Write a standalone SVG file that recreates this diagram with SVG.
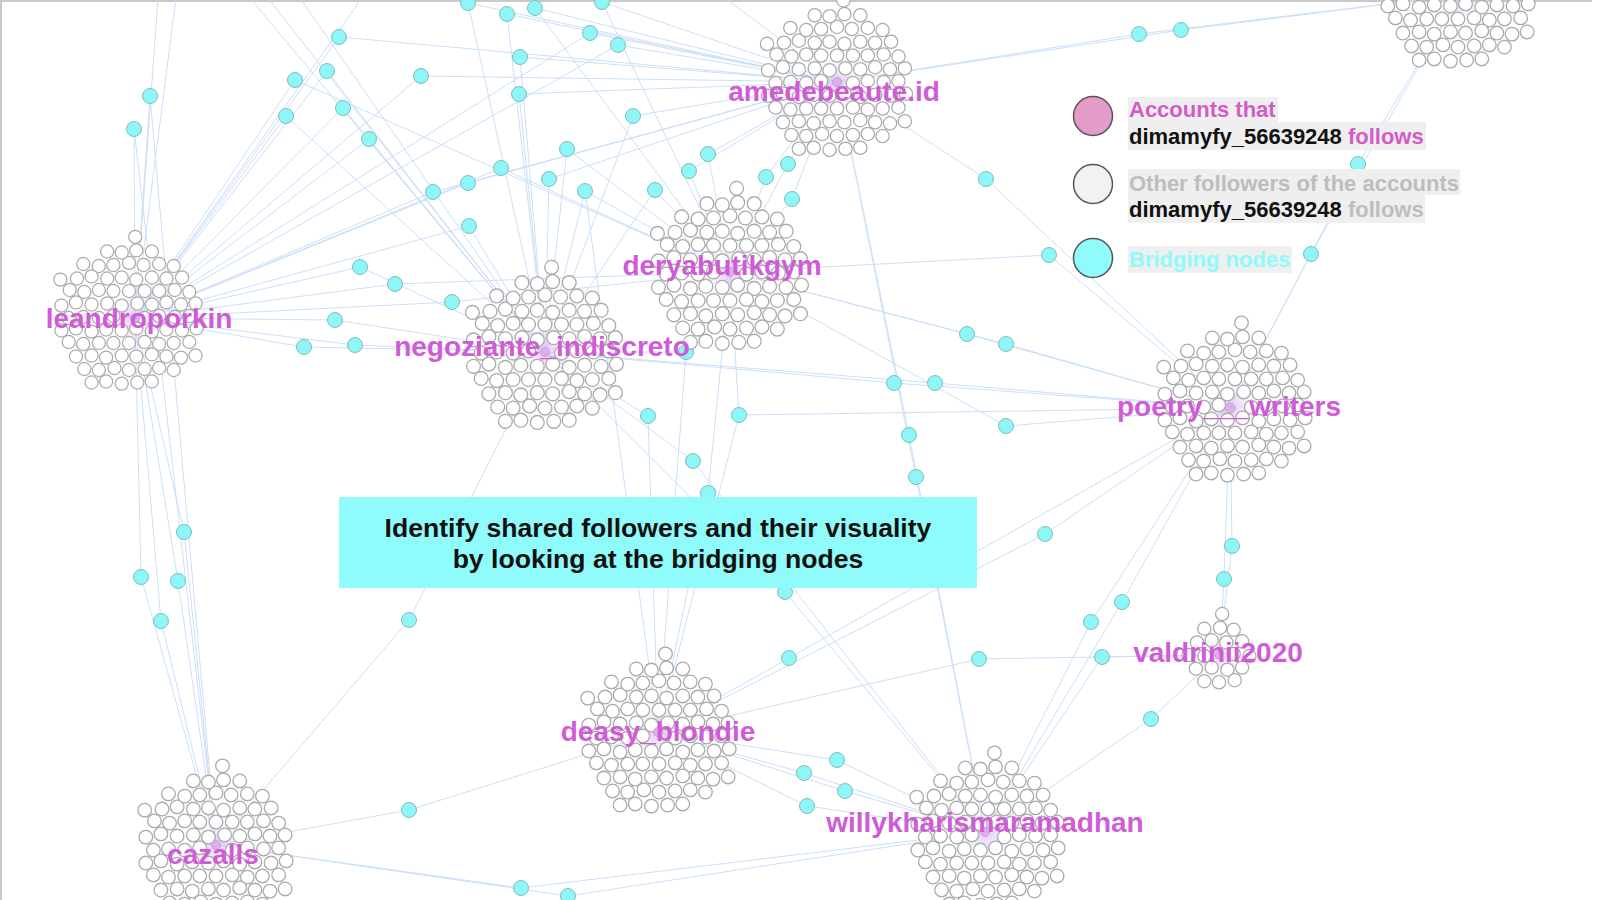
<svg xmlns="http://www.w3.org/2000/svg" xmlns:xlink="http://www.w3.org/1999/xlink" width="1600" height="900" viewBox="0 0 1600 900">
<style>
.e{stroke:#cadff8;stroke-width:1;fill:none}
.f{fill:#fff;stroke:#ababab;stroke-width:1.2}
.br{fill:#8ef6f6;stroke:#80bebe;stroke-width:1}
.hd{fill:#dcb0ea;stroke:#cf9ae0;stroke-width:1}
.lab{font-family:"Liberation Sans",Arial,sans-serif;font-weight:bold;font-size:28px;fill:#cf5cd6;text-anchor:middle}
.lg{font-family:"Liberation Sans",Arial,sans-serif;font-weight:bold;font-size:22px}
.bx{font-family:"Liberation Sans",Arial,sans-serif;font-weight:bold;font-size:26.6px;fill:#111;text-anchor:middle}
</style>
<defs>
<radialGradient id="glow"><stop offset="0" stop-color="#dcb8ee" stop-opacity="0.8"/><stop offset="1" stop-color="#efe0f7" stop-opacity="0"/></radialGradient>
<g id="clu">
<circle class="f" cx="-58" cy="1" r="6.3"/><circle class="f" cx="-44" cy="0" r="6.3"/><circle class="f" cx="-29" cy="1" r="6.3"/><circle class="f" cx="-15" cy="-1" r="6.3"/><circle class="f" cx="15" cy="1" r="6.3"/><circle class="f" cx="29" cy="-1" r="6.3"/><circle class="f" cx="44" cy="0" r="6.3"/><circle class="f" cx="58" cy="-1" r="6.3"/>
<circle class="f" cx="-65" cy="13" r="6.3"/><circle class="f" cx="-51" cy="11" r="6.3"/><circle class="f" cx="-36" cy="14" r="6.3"/><circle class="f" cx="-22" cy="12" r="6.3"/><circle class="f" cx="-7" cy="13" r="6.3"/><circle class="f" cx="7" cy="11" r="6.3"/><circle class="f" cx="22" cy="14" r="6.3"/><circle class="f" cx="36" cy="12" r="6.3"/><circle class="f" cx="51" cy="13" r="6.3"/><circle class="f" cx="65" cy="11" r="6.3"/>
<circle class="f" cx="-65" cy="-11" r="6.3"/><circle class="f" cx="-51" cy="-14" r="6.3"/><circle class="f" cx="-36" cy="-12" r="6.3"/><circle class="f" cx="-21" cy="-13" r="6.3"/><circle class="f" cx="-7" cy="-11" r="6.3"/><circle class="f" cx="8" cy="-13" r="6.3"/><circle class="f" cx="22" cy="-12" r="6.3"/><circle class="f" cx="36" cy="-14" r="6.3"/><circle class="f" cx="50" cy="-12" r="6.3"/><circle class="f" cx="64" cy="-13" r="6.3"/>
<circle class="f" cx="-58" cy="24" r="6.3"/><circle class="f" cx="-44" cy="26" r="6.3"/><circle class="f" cx="-29" cy="25" r="6.3"/><circle class="f" cx="-15" cy="25" r="6.3"/><circle class="f" cx="0" cy="25" r="6.3"/><circle class="f" cx="15" cy="24" r="6.3"/><circle class="f" cx="29" cy="26" r="6.3"/><circle class="f" cx="43" cy="25" r="6.3"/><circle class="f" cx="58" cy="24" r="6.3"/>
<circle class="f" cx="-57" cy="-26" r="6.3"/><circle class="f" cx="-43" cy="-24" r="6.3"/><circle class="f" cx="-29" cy="-26" r="6.3"/><circle class="f" cx="-15" cy="-25" r="6.3"/><circle class="f" cx="0" cy="-25" r="6.3"/><circle class="f" cx="15" cy="-25" r="6.3"/><circle class="f" cx="29" cy="-25" r="6.3"/><circle class="f" cx="44" cy="-26" r="6.3"/><circle class="f" cx="58" cy="-24" r="6.3"/>
<circle class="f" cx="-51" cy="38" r="6.3"/><circle class="f" cx="-36" cy="37" r="6.3"/><circle class="f" cx="-22" cy="39" r="6.3"/><circle class="f" cx="-7" cy="37" r="6.3"/><circle class="f" cx="7" cy="38" r="6.3"/><circle class="f" cx="22" cy="36" r="6.3"/><circle class="f" cx="36" cy="38" r="6.3"/><circle class="f" cx="50" cy="39" r="6.3"/>
<circle class="f" cx="-50" cy="-37" r="6.3"/><circle class="f" cx="-36" cy="-39" r="6.3"/><circle class="f" cx="-21" cy="-37" r="6.3"/><circle class="f" cx="-7" cy="-38" r="6.3"/><circle class="f" cx="7" cy="-36" r="6.3"/><circle class="f" cx="22" cy="-38" r="6.3"/><circle class="f" cx="36" cy="-37" r="6.3"/><circle class="f" cx="51" cy="-38" r="6.3"/>
<circle class="f" cx="-43" cy="50" r="6.3"/><circle class="f" cx="-29" cy="51" r="6.3"/><circle class="f" cx="-14" cy="49" r="6.3"/><circle class="f" cx="0" cy="51" r="6.3"/><circle class="f" cx="15" cy="50" r="6.3"/><circle class="f" cx="29" cy="49" r="6.3"/><circle class="f" cx="43" cy="51" r="6.3"/>
<circle class="f" cx="-44" cy="-51" r="6.3"/><circle class="f" cx="-29" cy="-49" r="6.3"/><circle class="f" cx="-15" cy="-50" r="6.3"/><circle class="f" cx="0" cy="-52" r="6.3"/><circle class="f" cx="14" cy="-50" r="6.3"/><circle class="f" cx="29" cy="-51" r="6.3"/><circle class="f" cx="43" cy="-49" r="6.3"/>
<circle class="f" cx="-22" cy="62" r="6.3"/><circle class="f" cx="-7" cy="64" r="6.3"/><circle class="f" cx="8" cy="63" r="6.3"/><circle class="f" cx="22" cy="62" r="6.3"/>
<circle class="f" cx="-21" cy="-63" r="6.3"/><circle class="f" cx="-7" cy="-62" r="6.3"/><circle class="f" cx="7" cy="-64" r="6.3"/><circle class="f" cx="22" cy="-63" r="6.3"/>
<circle class="f" cx="6" cy="-77" r="6.3"/><circle class="f" cx="-36" cy="63" r="6.3"/><circle class="f" cx="64" cy="37" r="6.3"/><circle class="f" cx="-66" cy="-36" r="6.3"/>
</g>
<g id="cls">
<circle class="f" cx="-29" cy="0" r="6.3"/><circle class="f" cx="-14" cy="1" r="6.3"/><circle class="f" cx="14" cy="-1" r="6.3"/><circle class="f" cx="29" cy="1" r="6.3"/>
<circle class="f" cx="-22" cy="13" r="6.3"/><circle class="f" cx="-7" cy="12" r="6.3"/><circle class="f" cx="8" cy="14" r="6.3"/><circle class="f" cx="22" cy="12" r="6.3"/>
<circle class="f" cx="-21" cy="-12" r="6.3"/><circle class="f" cx="-7" cy="-14" r="6.3"/><circle class="f" cx="7" cy="-12" r="6.3"/><circle class="f" cx="22" cy="-13" r="6.3"/>
<circle class="f" cx="-14" cy="25" r="6.3"/><circle class="f" cx="0" cy="26" r="6.3"/><circle class="f" cx="15" cy="24" r="6.3"/>
<circle class="f" cx="-14" cy="-25" r="6.3"/><circle class="f" cx="1" cy="-26" r="6.3"/><circle class="f" cx="14" cy="-24" r="6.3"/><circle class="f" cx="3" cy="-39" r="6.3"/>
</g>
</defs>
<rect width="1600" height="900" fill="#fff"/>
<path d="M1,900 V1 H1592" fill="none" stroke="#c9c9c9" stroke-width="2"/>
<g id="connectors">
<line class="e" x1="468" y1="3" x2="545" y2="352"/><line class="e" x1="468" y1="3" x2="837" y2="82"/>
<line class="e" x1="507" y1="14" x2="545" y2="352"/><line class="e" x1="507" y1="14" x2="837" y2="82"/>
<line class="e" x1="535" y1="8" x2="730" y2="272"/><line class="e" x1="535" y1="8" x2="837" y2="82"/>
<line class="e" x1="602" y1="2" x2="837" y2="82"/><line class="e" x1="602" y1="2" x2="730" y2="272"/>
<line class="e" x1="339" y1="37" x2="135" y2="318"/><line class="e" x1="339" y1="37" x2="837" y2="82"/>
<line class="e" x1="590" y1="33" x2="837" y2="82"/><line class="e" x1="590" y1="33" x2="135" y2="318"/>
<line class="e" x1="618" y1="45" x2="837" y2="82"/><line class="e" x1="618" y1="45" x2="135" y2="318"/>
<line class="e" x1="520" y1="57" x2="545" y2="352"/><line class="e" x1="520" y1="57" x2="837" y2="82"/>
<line class="e" x1="421" y1="76" x2="135" y2="318"/><line class="e" x1="421" y1="76" x2="837" y2="82"/>
<line class="e" x1="327" y1="71" x2="135" y2="318"/><line class="e" x1="327" y1="71" x2="545" y2="352"/>
<line class="e" x1="295" y1="80" x2="135" y2="318"/><line class="e" x1="295" y1="80" x2="730" y2="272"/>
<line class="e" x1="150" y1="96" x2="135" y2="318"/><line class="e" x1="150" y1="96" x2="216" y2="845"/>
<line class="e" x1="134" y1="129" x2="135" y2="318"/><line class="e" x1="134" y1="129" x2="216" y2="845"/>
<line class="e" x1="286" y1="116" x2="135" y2="318"/><line class="e" x1="286" y1="116" x2="545" y2="352"/>
<line class="e" x1="343" y1="108" x2="545" y2="352"/><line class="e" x1="343" y1="108" x2="135" y2="318"/>
<line class="e" x1="519" y1="94" x2="545" y2="352"/><line class="e" x1="519" y1="94" x2="837" y2="82"/>
<line class="e" x1="633" y1="116" x2="545" y2="352"/><line class="e" x1="633" y1="116" x2="837" y2="82"/>
<line class="e" x1="369" y1="139" x2="545" y2="352"/><line class="e" x1="369" y1="139" x2="135" y2="318"/>
<line class="e" x1="567" y1="149" x2="545" y2="352"/><line class="e" x1="567" y1="149" x2="730" y2="272"/>
<line class="e" x1="708" y1="154" x2="730" y2="272"/><line class="e" x1="708" y1="154" x2="837" y2="82"/>
<line class="e" x1="788" y1="164" x2="837" y2="82"/><line class="e" x1="788" y1="164" x2="730" y2="272"/>
<line class="e" x1="689" y1="171" x2="730" y2="272"/><line class="e" x1="689" y1="171" x2="837" y2="82"/>
<line class="e" x1="766" y1="177" x2="730" y2="272"/><line class="e" x1="766" y1="177" x2="837" y2="82"/>
<line class="e" x1="501" y1="168" x2="135" y2="318"/><line class="e" x1="501" y1="168" x2="730" y2="272"/>
<line class="e" x1="468" y1="183" x2="135" y2="318"/><line class="e" x1="468" y1="183" x2="837" y2="82"/>
<line class="e" x1="549" y1="179" x2="545" y2="352"/><line class="e" x1="549" y1="179" x2="837" y2="82"/>
<line class="e" x1="433" y1="192" x2="135" y2="318"/><line class="e" x1="433" y1="192" x2="837" y2="82"/>
<line class="e" x1="585" y1="191" x2="545" y2="352"/><line class="e" x1="585" y1="191" x2="730" y2="272"/><line class="e" x1="585" y1="191" x2="658" y2="732"/>
<line class="e" x1="655" y1="190" x2="730" y2="272"/><line class="e" x1="655" y1="190" x2="545" y2="352"/>
<line class="e" x1="792" y1="199" x2="730" y2="272"/><line class="e" x1="792" y1="199" x2="837" y2="82"/>
<line class="e" x1="469" y1="226" x2="545" y2="352"/><line class="e" x1="469" y1="226" x2="135" y2="318"/>
<line class="e" x1="986" y1="179" x2="837" y2="82"/><line class="e" x1="986" y1="179" x2="1230" y2="408"/>
<line class="e" x1="1139" y1="34" x2="837" y2="82"/><line class="e" x1="1139" y1="34" x2="1460" y2="-5"/>
<line class="e" x1="1181" y1="30" x2="837" y2="82"/><line class="e" x1="1181" y1="30" x2="1460" y2="-5"/>
<line class="e" x1="1049" y1="255" x2="730" y2="272"/><line class="e" x1="1049" y1="255" x2="1230" y2="408"/>
<line class="e" x1="1311" y1="254" x2="1230" y2="408"/><line class="e" x1="1311" y1="254" x2="1460" y2="-5"/>
<line class="e" x1="1358" y1="164" x2="1230" y2="408"/><line class="e" x1="1358" y1="164" x2="1460" y2="-5"/>
<line class="e" x1="360" y1="267" x2="135" y2="318"/><line class="e" x1="360" y1="267" x2="545" y2="352"/>
<line class="e" x1="395" y1="284" x2="135" y2="318"/><line class="e" x1="395" y1="284" x2="730" y2="272"/>
<line class="e" x1="452" y1="302" x2="135" y2="318"/><line class="e" x1="452" y1="302" x2="730" y2="272"/>
<line class="e" x1="335" y1="320" x2="135" y2="318"/><line class="e" x1="335" y1="320" x2="545" y2="352"/>
<line class="e" x1="304" y1="347" x2="135" y2="318"/><line class="e" x1="304" y1="347" x2="545" y2="352"/>
<line class="e" x1="355" y1="345" x2="135" y2="318"/><line class="e" x1="355" y1="345" x2="545" y2="352"/>
<line class="e" x1="686" y1="352" x2="545" y2="352"/><line class="e" x1="686" y1="352" x2="730" y2="272"/><line class="e" x1="686" y1="352" x2="658" y2="732"/>
<line class="e" x1="967" y1="334" x2="730" y2="272"/><line class="e" x1="967" y1="334" x2="1230" y2="408"/>
<line class="e" x1="1006" y1="344" x2="730" y2="272"/><line class="e" x1="1006" y1="344" x2="1230" y2="408"/>
<line class="e" x1="894" y1="383" x2="545" y2="352"/><line class="e" x1="894" y1="383" x2="1230" y2="408"/>
<line class="e" x1="935" y1="383" x2="545" y2="352"/><line class="e" x1="935" y1="383" x2="1230" y2="408"/>
<line class="e" x1="648" y1="416" x2="545" y2="352"/><line class="e" x1="648" y1="416" x2="658" y2="732"/>
<line class="e" x1="739" y1="415" x2="730" y2="272"/><line class="e" x1="739" y1="415" x2="1230" y2="408"/><line class="e" x1="739" y1="415" x2="658" y2="732"/>
<line class="e" x1="1006" y1="426" x2="1230" y2="408"/><line class="e" x1="1006" y1="426" x2="730" y2="272"/>
<line class="e" x1="909" y1="435" x2="837" y2="82"/><line class="e" x1="909" y1="435" x2="985" y2="832"/>
<line class="e" x1="916" y1="477" x2="837" y2="82"/><line class="e" x1="916" y1="477" x2="985" y2="832"/>
<line class="e" x1="693" y1="461" x2="545" y2="352"/><line class="e" x1="693" y1="461" x2="985" y2="832"/>
<line class="e" x1="708" y1="493" x2="730" y2="272"/><line class="e" x1="708" y1="493" x2="658" y2="732"/>
<line class="e" x1="1045" y1="534" x2="1230" y2="408"/><line class="e" x1="1045" y1="534" x2="658" y2="732"/>
<line class="e" x1="184" y1="532" x2="135" y2="318"/><line class="e" x1="184" y1="532" x2="216" y2="845"/>
<line class="e" x1="141" y1="577" x2="135" y2="318"/><line class="e" x1="141" y1="577" x2="216" y2="845"/>
<line class="e" x1="178" y1="581" x2="135" y2="318"/><line class="e" x1="178" y1="581" x2="216" y2="845"/>
<line class="e" x1="161" y1="621" x2="135" y2="318"/><line class="e" x1="161" y1="621" x2="216" y2="845"/>
<line class="e" x1="409" y1="620" x2="545" y2="352"/><line class="e" x1="409" y1="620" x2="216" y2="845"/>
<line class="e" x1="785" y1="592" x2="545" y2="352"/><line class="e" x1="785" y1="592" x2="985" y2="832"/>
<line class="e" x1="789" y1="658" x2="1230" y2="408"/><line class="e" x1="789" y1="658" x2="658" y2="732"/>
<line class="e" x1="979" y1="659" x2="1219" y2="655"/><line class="e" x1="979" y1="659" x2="658" y2="732"/>
<line class="e" x1="1102" y1="657" x2="1219" y2="655"/><line class="e" x1="1102" y1="657" x2="985" y2="832"/>
<line class="e" x1="1091" y1="622" x2="1230" y2="408"/><line class="e" x1="1091" y1="622" x2="985" y2="832"/>
<line class="e" x1="1122" y1="602" x2="1230" y2="408"/><line class="e" x1="1122" y1="602" x2="985" y2="832"/>
<line class="e" x1="1232" y1="546" x2="1230" y2="408"/><line class="e" x1="1232" y1="546" x2="1219" y2="655"/>
<line class="e" x1="1224" y1="579" x2="1230" y2="408"/><line class="e" x1="1224" y1="579" x2="1219" y2="655"/>
<line class="e" x1="1151" y1="719" x2="1219" y2="655"/><line class="e" x1="1151" y1="719" x2="985" y2="832"/>
<line class="e" x1="837" y1="760" x2="658" y2="732"/><line class="e" x1="837" y1="760" x2="985" y2="832"/>
<line class="e" x1="804" y1="773" x2="658" y2="732"/><line class="e" x1="804" y1="773" x2="985" y2="832"/>
<line class="e" x1="845" y1="791" x2="658" y2="732"/><line class="e" x1="845" y1="791" x2="985" y2="832"/>
<line class="e" x1="807" y1="806" x2="658" y2="732"/><line class="e" x1="807" y1="806" x2="985" y2="832"/>
<line class="e" x1="409" y1="810" x2="216" y2="845"/><line class="e" x1="409" y1="810" x2="658" y2="732"/>
<line class="e" x1="521" y1="888" x2="216" y2="845"/><line class="e" x1="521" y1="888" x2="985" y2="832"/>
<line class="e" x1="568" y1="896" x2="216" y2="845"/><line class="e" x1="568" y1="896" x2="985" y2="832"/>
<line class="e" x1="158" y1="-2" x2="135" y2="318"/><line class="e" x1="176" y1="-2" x2="135" y2="318"/>
<line class="e" x1="250" y1="-2" x2="545" y2="352"/><line class="e" x1="268" y1="-2" x2="545" y2="352"/>
<line class="e" x1="362" y1="-2" x2="135" y2="318"/><line class="e" x1="300" y1="-2" x2="545" y2="352"/>
<line class="e" x1="725" y1="-2" x2="837" y2="82"/>
</g>
<g id="bridging-nodes">
<g id="b1"><circle class="br" cx="468" cy="3" r="7.5"/></g>
<g id="b2"><circle class="br" cx="507" cy="14" r="7.5"/></g>
<g id="b3"><circle class="br" cx="535" cy="8" r="7.5"/></g>
<g id="b4"><circle class="br" cx="602" cy="2" r="7.5"/></g>
<g id="b5"><circle class="br" cx="339" cy="37" r="7.5"/></g>
<g id="b6"><circle class="br" cx="590" cy="33" r="7.5"/></g>
<g id="b7"><circle class="br" cx="618" cy="45" r="7.5"/></g>
<g id="b8"><circle class="br" cx="520" cy="57" r="7.5"/></g>
<g id="b9"><circle class="br" cx="421" cy="76" r="7.5"/></g>
<g id="b10"><circle class="br" cx="327" cy="71" r="7.5"/></g>
<g id="b11"><circle class="br" cx="295" cy="80" r="7.5"/></g>
<g id="b12"><circle class="br" cx="150" cy="96" r="7.5"/></g>
<g id="b13"><circle class="br" cx="134" cy="129" r="7.5"/></g>
<g id="b14"><circle class="br" cx="286" cy="116" r="7.5"/></g>
<g id="b15"><circle class="br" cx="343" cy="108" r="7.5"/></g>
<g id="b16"><circle class="br" cx="519" cy="94" r="7.5"/></g>
<g id="b17"><circle class="br" cx="633" cy="116" r="7.5"/></g>
<g id="b18"><circle class="br" cx="369" cy="139" r="7.5"/></g>
<g id="b19"><circle class="br" cx="567" cy="149" r="7.5"/></g>
<g id="b20"><circle class="br" cx="708" cy="154" r="7.5"/></g>
<g id="b21"><circle class="br" cx="788" cy="164" r="7.5"/></g>
<g id="b22"><circle class="br" cx="689" cy="171" r="7.5"/></g>
<g id="b23"><circle class="br" cx="766" cy="177" r="7.5"/></g>
<g id="b24"><circle class="br" cx="501" cy="168" r="7.5"/></g>
<g id="b25"><circle class="br" cx="468" cy="183" r="7.5"/></g>
<g id="b26"><circle class="br" cx="549" cy="179" r="7.5"/></g>
<g id="b27"><circle class="br" cx="433" cy="192" r="7.5"/></g>
<g id="b28"><circle class="br" cx="585" cy="191" r="7.5"/></g>
<g id="b29"><circle class="br" cx="655" cy="190" r="7.5"/></g>
<g id="b30"><circle class="br" cx="792" cy="199" r="7.5"/></g>
<g id="b31"><circle class="br" cx="469" cy="226" r="7.5"/></g>
<g id="b32"><circle class="br" cx="986" cy="179" r="7.5"/></g>
<g id="b33"><circle class="br" cx="1139" cy="34" r="7.5"/></g>
<g id="b34"><circle class="br" cx="1181" cy="30" r="7.5"/></g>
<g id="b35"><circle class="br" cx="1049" cy="255" r="7.5"/></g>
<g id="b36"><circle class="br" cx="1311" cy="254" r="7.5"/></g>
<g id="b37"><circle class="br" cx="1358" cy="164" r="7.5"/></g>
<g id="b38"><circle class="br" cx="360" cy="267" r="7.5"/></g>
<g id="b39"><circle class="br" cx="395" cy="284" r="7.5"/></g>
<g id="b40"><circle class="br" cx="452" cy="302" r="7.5"/></g>
<g id="b41"><circle class="br" cx="335" cy="320" r="7.5"/></g>
<g id="b42"><circle class="br" cx="304" cy="347" r="7.5"/></g>
<g id="b43"><circle class="br" cx="355" cy="345" r="7.5"/></g>
<g id="b44"><circle class="br" cx="686" cy="352" r="7.5"/></g>
<g id="b45"><circle class="br" cx="967" cy="334" r="7.5"/></g>
<g id="b46"><circle class="br" cx="1006" cy="344" r="7.5"/></g>
<g id="b47"><circle class="br" cx="894" cy="383" r="7.5"/></g>
<g id="b48"><circle class="br" cx="935" cy="383" r="7.5"/></g>
<g id="b49"><circle class="br" cx="648" cy="416" r="7.5"/></g>
<g id="b50"><circle class="br" cx="739" cy="415" r="7.5"/></g>
<g id="b51"><circle class="br" cx="1006" cy="426" r="7.5"/></g>
<g id="b52"><circle class="br" cx="909" cy="435" r="7.5"/></g>
<g id="b53"><circle class="br" cx="916" cy="477" r="7.5"/></g>
<g id="b54"><circle class="br" cx="693" cy="461" r="7.5"/></g>
<g id="b55"><circle class="br" cx="708" cy="493" r="7.5"/></g>
<g id="b56"><circle class="br" cx="1045" cy="534" r="7.5"/></g>
<g id="b57"><circle class="br" cx="184" cy="532" r="7.5"/></g>
<g id="b58"><circle class="br" cx="141" cy="577" r="7.5"/></g>
<g id="b59"><circle class="br" cx="178" cy="581" r="7.5"/></g>
<g id="b60"><circle class="br" cx="161" cy="621" r="7.5"/></g>
<g id="b61"><circle class="br" cx="409" cy="620" r="7.5"/></g>
<g id="b62"><circle class="br" cx="785" cy="592" r="7.5"/></g>
<g id="b63"><circle class="br" cx="789" cy="658" r="7.5"/></g>
<g id="b64"><circle class="br" cx="979" cy="659" r="7.5"/></g>
<g id="b65"><circle class="br" cx="1102" cy="657" r="7.5"/></g>
<g id="b66"><circle class="br" cx="1091" cy="622" r="7.5"/></g>
<g id="b67"><circle class="br" cx="1122" cy="602" r="7.5"/></g>
<g id="b68"><circle class="br" cx="1232" cy="546" r="7.5"/></g>
<g id="b69"><circle class="br" cx="1224" cy="579" r="7.5"/></g>
<g id="b70"><circle class="br" cx="1151" cy="719" r="7.5"/></g>
<g id="b71"><circle class="br" cx="837" cy="760" r="7.5"/></g>
<g id="b72"><circle class="br" cx="804" cy="773" r="7.5"/></g>
<g id="b73"><circle class="br" cx="845" cy="791" r="7.5"/></g>
<g id="b74"><circle class="br" cx="807" cy="806" r="7.5"/></g>
<g id="b75"><circle class="br" cx="409" cy="810" r="7.5"/></g>
<g id="b76"><circle class="br" cx="521" cy="888" r="7.5"/></g>
<g id="b77"><circle class="br" cx="568" cy="896" r="7.5"/></g>
</g>
<g id="hub-top-right">
<circle cx="1460" cy="-5" r="30" fill="url(#glow)"/>
<use xlink:href="#clu" href="#clu" transform="translate(1458,-8) scale(1.08)"/>
</g>
<g id="hub-amedebeaute">
<circle cx="837" cy="82" r="30" fill="url(#glow)"/>
<use xlink:href="#clu" href="#clu" transform="translate(837,82) scale(1.06)"/>
<circle class="hd" cx="837" cy="82" r="4.5"/>
<text class="lab" x="834" y="101">amedebeaute.id</text>
</g>
<g id="hub-leandroporkin">
<circle cx="135" cy="318" r="30" fill="url(#glow)"/>
<use xlink:href="#clu" href="#clu" transform="translate(129,317) scale(1.04)"/>
<circle class="hd" cx="135" cy="318" r="4.5"/>
<text class="lab" x="139" y="328">leandroporkin</text>
</g>
<g id="hub-deryabutikgym">
<circle cx="730" cy="272" r="30" fill="url(#glow)"/>
<use xlink:href="#clu" href="#clu" transform="translate(730,273) scale(1.1)"/>
<circle class="hd" cx="730" cy="272" r="4.5"/>
<text class="lab" x="722" y="275">deryabutikgym</text>
</g>
<g id="hub-negoziante">
<circle cx="545" cy="352" r="30" fill="url(#glow)"/>
<use xlink:href="#clu" href="#clu" transform="translate(545,352) scale(1.1)"/>
<circle class="hd" cx="545" cy="352" r="4.5"/>
<text class="lab" x="542" y="356">negoziante_indiscreto</text>
</g>
<g id="hub-poetry">
<circle cx="1230" cy="408" r="30" fill="url(#glow)"/>
<use xlink:href="#clu" href="#clu" transform="translate(1235,406) scale(1.08)"/>
<text class="lab" x="1229" y="416">poetry___writers</text>
<circle class="hd" cx="1230" cy="408" r="5"/>
</g>
<g id="hub-valdrinii">
<circle cx="1219" cy="655" r="22" fill="url(#glow)"/>
<use xlink:href="#cls" href="#cls" transform="translate(1219,655) scale(1.05)"/>
<circle class="hd" cx="1219" cy="655" r="4"/>
<text class="lab" x="1218" y="662">valdrinii2020</text>
</g>
<g id="hub-deasy">
<circle cx="658" cy="732" r="30" fill="url(#glow)"/>
<use xlink:href="#clu" href="#clu" transform="translate(659,737) scale(1.08)"/>
<circle class="hd" cx="658" cy="732" r="4.5"/>
<text class="lab" x="658" y="741">deasy_blondie</text>
</g>
<g id="hub-willy">
<circle cx="985" cy="832" r="30" fill="url(#glow)"/>
<use xlink:href="#clu" href="#clu" transform="translate(988,836) scale(1.08)"/>
<circle class="hd" cx="985" cy="832" r="4.5"/>
<text class="lab" x="985" y="832">willykharismaramadhan</text>
</g>
<g id="hub-cazalls">
<circle cx="216" cy="845" r="30" fill="url(#glow)"/>
<use xlink:href="#clu" href="#clu" transform="translate(216,849) scale(1.08)"/>
<circle class="hd" cx="216" cy="845" r="4.5"/>
<text class="lab" x="213" y="864">cazalls</text>
</g>
<g id="caption">
<rect x="339" y="497" width="638" height="91" fill="#8ffbfb"/>
<text class="bx" x="658" y="537">Identify shared followers and their visuality</text>
<text class="bx" x="658" y="568">by looking at the bridging nodes</text>
</g>
<g id="legend">
<circle cx="1093" cy="116" r="19.5" fill="#e39cc8" stroke="#555" stroke-width="1.5"/>
<circle cx="1093" cy="184" r="19.5" fill="#f2f2f2" stroke="#555" stroke-width="1.5"/>
<circle cx="1093" cy="258" r="19.5" fill="#8ffbfb" stroke="#555" stroke-width="1.5"/>
<rect x="1128" y="97" width="150" height="25" fill="#efefef"/>
<rect x="1128" y="122" width="298" height="28" fill="#efefef"/>
<rect x="1128" y="169" width="332" height="26" fill="#efefef"/>
<rect x="1128" y="195" width="297" height="28" fill="#efefef"/>
<rect x="1128" y="246" width="164" height="27" fill="#efefef"/>
<text class="lg" x="1129" y="117" fill="#d35bc8">Accounts that</text>
<text class="lg" x="1129" y="144" fill="#111">dimamyfy_56639248 <tspan fill="#d35bc8">follows</tspan></text>
<text class="lg" x="1129" y="191" fill="#bdbdbd">Other followers of the accounts</text>
<text class="lg" x="1129" y="217" fill="#111">dimamyfy_56639248 <tspan fill="#bdbdbd">follows</tspan></text>
<text class="lg" x="1129" y="267" fill="#8ffafa">Bridging nodes</text>
</g>
</svg>
